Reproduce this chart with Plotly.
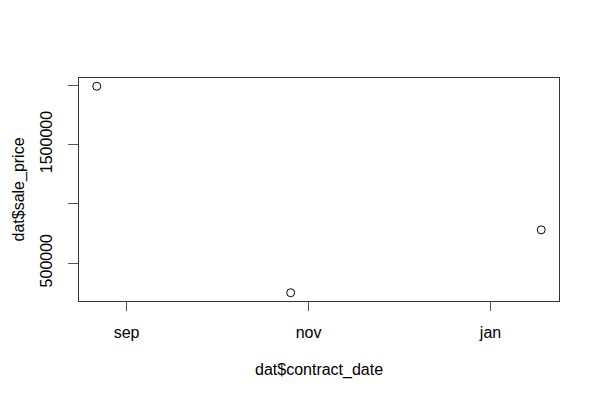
import plotly.graph_objects as go
import datetime as dt

contract_date = ["2019-08-22", "2019-10-26", "2020-01-18"]
sale_price = [1990000, 250000, 780000]

x_tick_vals = ["2019-09-01", "2019-11-01", "2020-01-01"]
x_tick_text = ["sep", "nov", "jan"]
y_tick_vals = [500000, 1000000, 1500000, 2000000]
y_tick_text = ["500000", "", "1500000", ""]

FONT = "Liberation Sans, Arial, Helvetica, sans-serif"

# R-style 4% axis extension
dts = [dt.datetime.fromisoformat(d) for d in contract_date]
dmin, dmax = min(dts), max(dts)
pad = (dmax - dmin) * 0.04
xr = [(dmin - pad).isoformat(), (dmax + pad).isoformat()]
ymin, ymax = min(sale_price), max(sale_price)
ypad = (ymax - ymin) * 0.04
yr = [ymin - ypad, ymax + ypad]

fig = go.Figure(go.Scatter(
    x=contract_date, y=sale_price, mode="markers",
    marker=dict(symbol="circle-open", size=8, color="black", line=dict(width=1, color="black")),
    hoverinfo="skip",
))

fig.update_layout(
    width=600, height=400,
    margin=dict(l=71, r=49, t=70, b=107),
    paper_bgcolor="white", plot_bgcolor="white",
    font=dict(family=FONT, size=16, color="black"),
    showlegend=False,
    xaxis=dict(
        type="date", range=xr, tickmode="array", tickvals=x_tick_vals, ticktext=x_tick_text,
        showgrid=False, zeroline=False, showline=True, mirror=True, linecolor="#333", linewidth=1,
        ticks="outside", ticklen=9, tickcolor="#555", tickwidth=1, ticklabelstandoff=8,
    ),
    yaxis=dict(
        range=yr, tickmode="array", tickvals=y_tick_vals, ticktext=y_tick_text, tickangle=-90,
        showgrid=False, zeroline=False, showline=True, mirror=True, linecolor="#333", linewidth=1,
        ticks="outside", ticklen=10, tickcolor="#555", tickwidth=1, ticklabelstandoff=10,
    ),
    annotations=[
        dict(text="dat$contract_date", xref="paper", yref="paper", x=0.5, y=-69/223,
             xanchor="center", yanchor="middle", showarrow=False, font=dict(size=16)),
        dict(text="dat$sale_price", xref="paper", yref="paper", x=-61/480, y=0.5,
             xanchor="center", yanchor="middle", textangle=-90, showarrow=False, font=dict(size=16)),
    ],
)

fig.write_html("out.html")
